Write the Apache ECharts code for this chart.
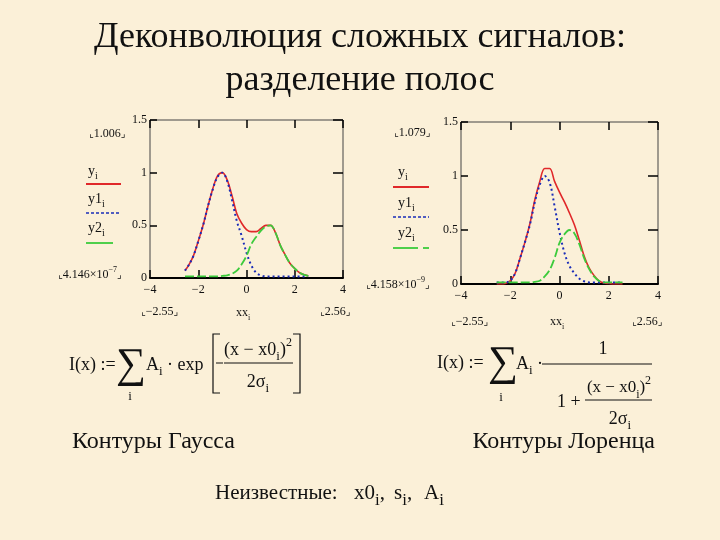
<!DOCTYPE html>
<html><head><meta charset="utf-8">
<script src="https://cdn.jsdelivr.net/npm/echarts@6/dist/echarts.min.js"></script>
<style>html,body{margin:0;padding:0;background:#FBF0D8}#c{width:720px;height:540px}</style>
</head><body><div id="c"></div>
<script>
// ---------- data ----------
const xVals  = [-2.55,-2.4,-2.2,-2.0,-1.8,-1.6,-1.4,-1.2,-1.0,-0.8,-0.6,-0.4,-0.2,0,0.2,0.4,0.6,0.8,1.0,1.2,1.4,1.6,1.8,2.0,2.2,2.4,2.56];
// Gaussian contours (left)
const gaussY  = [0.07,0.12,0.21,0.35,0.50,0.68,0.845,0.97,1.00,0.93,0.78,0.61,0.52,0.46,0.44,0.44,0.47,0.50,0.50,0.43,0.31,0.22,0.14,0.09,0.05,0.03,0.02];
const gaussY1 = [0.07,0.12,0.21,0.35,0.50,0.68,0.84,0.96,1.00,0.92,0.74,0.54,0.40,0.24,0.12,0.05,0.025,0.015,0.015,0.015,0.015,0.015,0.015,0.015,0.015,0.015,0.015];
const gaussY2 = [0.015,0.015,0.015,0.015,0.015,0.015,0.015,0.015,0.02,0.025,0.04,0.07,0.13,0.21,0.32,0.39,0.45,0.49,0.50,0.43,0.31,0.22,0.14,0.09,0.05,0.03,0.02];
// Lorentz contours (right)
const lorY  = [0,0,0.005,0.03,0.10,0.24,0.39,0.56,0.78,0.95,1.07,1.07,0.95,0.85,0.76,0.66,0.55,0.41,0.26,0.15,0.08,0.03,0.01,0.005,0,0,0];
const lorY1 = [0.015,0.015,0.015,0.03,0.10,0.24,0.39,0.55,0.76,0.92,1.00,0.94,0.72,0.48,0.29,0.17,0.10,0.05,0.025,0.015,0.015,0.015,0.015,0.015,0.015,0.015,0.015];
const lorY2 = [0.015,0.015,0.015,0.015,0.015,0.015,0.015,0.015,0.02,0.03,0.07,0.13,0.24,0.38,0.46,0.50,0.47,0.37,0.24,0.14,0.07,0.03,0.015,0.015,0.015,0.015,0.015];
// axes
const xTicks = [-4,-2,0,2,4];
const yTicks = [0,0.5,1,1.5];
// texts
const titleLines = ['Деконволюция сложных сигналов:', 'разделение полос'];
const leftCaption = 'Контуры Гаусса';
const rightCaption = 'Контуры Лоренца';
const unknownsLabel = 'Неизвестные:';
const unknowns = ['x0', 's', 'A'];
const leftTop = '1.006', rightTop = '1.079';
const leftBottom = ['4.146×10', '−7'], rightBottom = ['4.158×10', '−9'];
const xRange = ['−2.55', '2.56'];

// ---------- rendering ----------
const SERIF = "'Liberation Serif','Times New Roman','DejaVu Serif',serif";
const INK = '#111';
const RED = '#E0282A', BLUE = '#1A2CB8', GREEN = '#3CCB3C';

function rich(size){
  return {
    s:{fontFamily:SERIF,fontSize:Math.round(size*0.7),lineHeight:Math.round(size*0.7),verticalAlign:'bottom',fill:INK},
    S:{fontFamily:SERIF,fontSize:Math.round(size*0.8),lineHeight:Math.round(size*0.8),verticalAlign:'bottom',fill:INK},
    p:{fontFamily:SERIF,fontSize:Math.round(size*0.68),lineHeight:Math.round(size*0.7),verticalAlign:'top',fill:INK},
    c:{fontFamily:"'DejaVu Sans',sans-serif",fontSize:Math.round(size*0.8),fill:INK}
  };
}
function T(x,y,text,size,align,extra){
  return Object.assign({type:'text',silent:true,style:{x:x,y:y,text:text,fontFamily:SERIF,fontSize:size,
    lineHeight:Math.round(size*1.5),fill:INK,align:align||'left',verticalAlign:'middle',rich:rich(size)}},extra||{});
}
function L(x1,y1,x2,y2,color,w,dash){
  return {type:'line',silent:true,shape:{x1:x1,y1:y1,x2:x2,y2:y2},style:{stroke:color||INK,lineWidth:w||1,lineDash:dash||null}};
}
function P(points,w){
  return {type:'polyline',silent:true,shape:{points:points},style:{stroke:INK,lineWidth:w||1.2,fill:null}};
}
const minus = v => String(v).replace('-', '−');

const g = [];
// title
g.push(T(360,38,titleLines[0],36,'center'));
g.push(T(360,81,titleLines[1],36,'center'));
// left chart side texts
g.push(T(89,134,'{c|⌞}'+leftTop+'{c|⌟}',12));
g.push(T(88,171,'y{s|i}',14));
g.push(L(86,184,121,184,RED,1.8));
g.push(T(88,199,'y1{s|i}',14));
g.push(L(86,213,121,213,BLUE,1.6,[3,2]));
g.push(T(88,228,'y2{s|i}',14));
g.push(L(86,243,113,243,GREEN,1.8));
g.push(T(58,275,'{c|⌞}'+leftBottom[0]+'{p|'+leftBottom[1]+'}{c|⌟}',12));
g.push(T(141,312,'{c|⌞}'+xRange[0]+'{c|⌟}',12));
g.push(T(243,313,'xx{s|i}',12,'center'));
g.push(T(320,312,'{c|⌞}'+xRange[1]+'{c|⌟}',12));
// right chart side texts
g.push(T(394,133,'{c|⌞}'+rightTop+'{c|⌟}',12));
g.push(T(398,172,'y{s|i}',14));
g.push(L(393,187,429,187,RED,1.8));
g.push(T(398,203,'y1{s|i}',14));
g.push(L(393,217,429,217,BLUE,1.6,[3,2]));
g.push(T(398,233,'y2{s|i}',14));
g.push(L(393,248,418,248,GREEN,1.8));
g.push(L(423,248,429,248,GREEN,1.8));
g.push(T(366,285,'{c|⌞}'+rightBottom[0]+'{p|'+rightBottom[1]+'}{c|⌟}',12));
g.push(T(451,322,'{c|⌞}'+xRange[0]+'{c|⌟}',12));
g.push(T(557,322,'xx{s|i}',12,'center'));
g.push(T(632,322,'{c|⌞}'+xRange[1]+'{c|⌟}',12));

// left formula (Gauss)
g.push(T(69,365,'I(x) :=',18));
g.push(T(131,366,'∑',42,'center'));
g.push(T(130,397,'i',13,'center'));
g.push(T(146,365,'A{s|i} · exp',18));
g.push(P([[220,334],[213,334],[213,393],[220,393]]));
g.push(P([[293,334],[300,334],[300,393],[293,393]]));
g.push(L(216,363,223,363,INK,1));
g.push(L(224,363,293,363,INK,1));
g.push(T(258,350,'(x − x0{s|i}){p|2}',18,'center'));
g.push(T(258,382,'2σ{s|i}',18,'center'));

// right formula (Lorentz)
g.push(T(437,363,'I(x) :=',18));
g.push(T(503,364,'∑',42,'center'));
g.push(T(501,398,'i',13,'center'));
g.push(T(516,364,'A{s|i} ·',18));
g.push(T(603,349,'1',18,'center'));
g.push(L(542,364,652,364,INK,1));
g.push(T(557,402,'1 +',18));
g.push(L(585,400,652,400,INK,1));
g.push(T(619,388,'(x − x0{s|i}){p|2}',17,'center'));
g.push(T(620,419,'2σ{s|i}',18,'center'));

// captions
g.push(T(72,442,leftCaption,24));
g.push(T(655,442,rightCaption,24,'right'));
g.push(T(215,493,unknownsLabel,21));
g.push(T(354,493,unknowns[0]+'{S|i},',21));
g.push(T(394,493,unknowns[1]+'{S|i},',21));
g.push(T(424,493,unknowns[2]+'{S|i}',21));

function xAxisCfg(gi, pos){
  const main = pos==='bottom';
  return {type:'value',gridIndex:gi,position:pos,min:xTicks[0],max:xTicks[xTicks.length-1],interval:xTicks[1]-xTicks[0],
    axisLine:{show:main,onZero:false,lineStyle:{color:'#000',width:2}},
    axisTick:{show:true,inside:true,length:8,lineStyle:{color:'#000',width:1.5}},
    axisLabel:{show:main,margin:6,fontFamily:SERIF,fontSize:12,color:INK,formatter:v=>minus(v)},
    splitLine:{show:false}};
}
function yAxisCfg(gi, pos){
  const main = pos==='left';
  return {type:'value',gridIndex:gi,position:pos,min:yTicks[0],max:yTicks[yTicks.length-1],interval:yTicks[1]-yTicks[0],
    axisLine:{show:false,onZero:false},
    axisTick:{show:true,inside:true,length:main?7:10,lineStyle:{color:'#000',width:1.5}},
    axisLabel:{show:main,margin:3,fontFamily:SERIF,fontSize:12,color:INK},
    splitLine:{show:false}};
}
function lineSeries(arr, gi, color, dash, w){
  return {type:'line',xAxisIndex:gi*2,yAxisIndex:gi*2,data:xVals.map((x,i)=>[x,arr[i]]),
    showSymbol:false,smooth:0.35,silent:true,lineStyle:{color:color,width:w,type:dash||'solid'}};
}

const chart = echarts.init(document.getElementById('c'),null,{renderer:'canvas'});
chart.setOption({
  backgroundColor:'#FBF0D8',
  animation:false,
  grid:[
    {left:150,top:120,width:193,height:158,show:true,borderColor:'#444',borderWidth:1,backgroundColor:'transparent'},
    {left:461,top:122,width:197,height:162,show:true,borderColor:'#444',borderWidth:1,backgroundColor:'transparent'}
  ],
  xAxis:[xAxisCfg(0,'bottom'),xAxisCfg(0,'top'),xAxisCfg(1,'bottom'),xAxisCfg(1,'top')],
  yAxis:[yAxisCfg(0,'left'),yAxisCfg(0,'right'),yAxisCfg(1,'left'),yAxisCfg(1,'right')],
  series:[
    lineSeries(gaussY,0,RED,'solid',1.6),
    lineSeries(gaussY1,0,BLUE,[2,3],2),
    lineSeries(gaussY2,0,GREEN,[9,3],1.8),
    lineSeries(lorY,1,RED,'solid',1.6),
    lineSeries(lorY1,1,BLUE,[2,3],2),
    lineSeries(lorY2,1,GREEN,[9,3],1.8)
  ],
  graphic:g
});
</script></body></html>
